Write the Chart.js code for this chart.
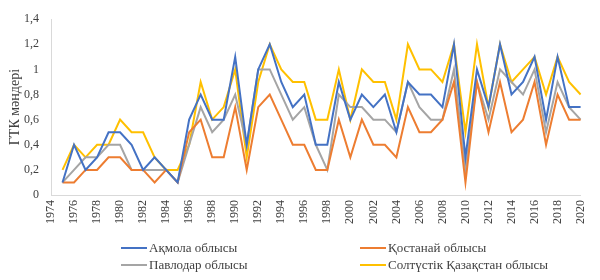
<!DOCTYPE html>
<html>
<head>
<meta charset="utf-8">
<script src="https://cdn.jsdelivr.net/npm/chart.js@4"></script>
<style>
  html, body { margin: 0; padding: 0; background: #fff; }
  #wrap { width: 600px; height: 280px; }
</style>
</head>
<body>
<div id="wrap"><canvas id="chart" width="600" height="280"></canvas></div>
<script>
// жылдар 1974..2020 (1974 бос)
const years = [];
for (let y = 1974; y <= 2020; y++) years.push(String(y));

const yTicks = [0, 0.2, 0.4, 0.6, 0.8, 1, 1.2, 1.4];

const seriesNames = ['Ақмола облысы', 'Қостанай облысы', 'Павлодар облысы', 'Солтүстік Қазақстан облысы'];
const seriesColors = ['#4472C4', '#ED7D31', '#A5A5A5', '#FFC000'];

const akmola = [null,
  0.1, 0.4, 0.2, 0.3, 0.5, 0.5, 0.4, 0.2, 0.3, 0.2,
  0.1, 0.6, 0.8, 0.6, 0.6, 1.1, 0.4, 1.0, 1.2, 0.9,
  0.7, 0.8, 0.4, 0.4, 0.9, 0.6, 0.8, 0.7, 0.8, 0.5,
  0.9, 0.8, 0.8, 0.7, 1.2, 0.3, 1.0, 0.7, 1.2, 0.8,
  0.9, 1.1, 0.6, 1.1, 0.7, 0.7];
const kostanay = [null,
  0.1, 0.1, 0.2, 0.2, 0.3, 0.3, 0.2, 0.2, 0.1, 0.2,
  0.1, 0.5, 0.6, 0.3, 0.3, 0.7, 0.2, 0.7, 0.8, 0.6,
  0.4, 0.4, 0.2, 0.2, 0.6, 0.3, 0.6, 0.4, 0.4, 0.3,
  0.7, 0.5, 0.5, 0.6, 0.9, 0.1, 0.9, 0.5, 0.9, 0.5,
  0.6, 0.9, 0.4, 0.8, 0.6, 0.6];
const pavlodar = [null,
  0.1, 0.2, 0.3, 0.3, 0.4, 0.4, 0.2, 0.2, 0.2, 0.2,
  0.1, 0.4, 0.7, 0.5, 0.6, 0.8, 0.4, 1.0, 1.0, 0.8,
  0.6, 0.7, 0.4, 0.2, 0.8, 0.7, 0.7, 0.6, 0.6, 0.5,
  0.9, 0.7, 0.6, 0.6, 1.0, 0.2, 0.9, 0.6, 1.0, 0.9,
  0.8, 1.0, 0.5, 0.9, 0.7, 0.6];
const soltustik = [null,
  0.2, 0.4, 0.3, 0.4, 0.4, 0.6, 0.5, 0.5, 0.3, 0.2,
  0.2, 0.4, 0.9, 0.6, 0.7, 1.0, 0.3, 0.9, 1.2, 1.0,
  0.9, 0.9, 0.6, 0.6, 1.0, 0.6, 1.0, 0.9, 0.9, 0.6,
  1.2, 1.0, 1.0, 0.9, 1.2, 0.5, 1.2, 0.7, 1.2, 0.9,
  1.0, 1.1, 0.8, 1.1, 0.9, 0.8];

const seriesValues = [akmola, kostanay, pavlodar, soltustik];

const FONT = "'Liberation Serif', 'Times New Roman', serif";
const TEXT = '#404040';

// легенда: екі бағанда, екі жолда
const legendPlugin = {
  id: 'twoColLegend',
  afterDraw(chart) {
    const ctx = chart.ctx;
    const cols = [121, 360];
    const rows = [248, 265];
    ctx.save();
    ctx.font = '13px ' + FONT;
    ctx.fillStyle = TEXT;
    ctx.textBaseline = 'middle';
    chart.data.datasets.forEach((ds, i) => {
      const x = cols[i % 2];
      const y = rows[Math.floor(i / 2)];
      ctx.strokeStyle = ds.borderColor;
      ctx.lineWidth = 2;
      ctx.beginPath();
      ctx.moveTo(x, y);
      ctx.lineTo(x + 26, y);
      ctx.stroke();
      ctx.fillText(ds.label, x + 28, y + 1);
    });
    ctx.restore();
  }
};

new Chart(document.getElementById('chart'), {
  type: 'line',
  data: {
    labels: years,
    datasets: seriesNames.map((name, i) => ({
      label: name,
      data: seriesValues[i],
      borderColor: seriesColors[i],
      backgroundColor: seriesColors[i],
      borderWidth: 2,
      pointRadius: 0,
      tension: 0,
      spanGaps: false
    }))
  },
  options: {
    responsive: false,
    animation: false,
    layout: { padding: { top: 9, right: 12, bottom: 42, left: 0 } },
    plugins: {
      legend: { display: false },
      tooltip: { enabled: false }
    },
    scales: {
      x: {
        type: 'category',
        offset: false,
        grid: { color: 'transparent', drawTicks: false },
        border: { display: true, color: '#d9d9d9', width: 1 },
        ticks: {
          autoSkip: false,
          minRotation: 90,
          maxRotation: 90,
          padding: 5,
          color: TEXT,
          font: { family: FONT, size: 12 },
          callback: function (val, idx) {
            return idx % 2 === 0 ? this.getLabelForValue(val) : '';
          }
        },
        afterFit: (scale) => { scale.height = 43; }
      },
      y: {
        min: 0,
        max: 1.4,
        afterBuildTicks: (scale) => { scale.ticks = yTicks.map(v => ({ value: v })); },
        grid: { color: 'transparent', drawTicks: false },
        border: { display: true, color: '#d9d9d9', width: 1 },
        ticks: {
          padding: 12,
          color: TEXT,
          font: { family: FONT, size: 12 },
          callback: (v) => String(Math.round(v * 10) / 10).replace('.', ',')
        },
        title: {
          display: true,
          text: 'ГТК мәндері',
          color: TEXT,
          font: { family: FONT, size: 14 },
          padding: { top: 7, bottom: -4 }
        },
        afterFit: (scale) => { scale.width = 51; }
      }
    }
  },
  plugins: [legendPlugin]
});
</script>
</body>
</html>
